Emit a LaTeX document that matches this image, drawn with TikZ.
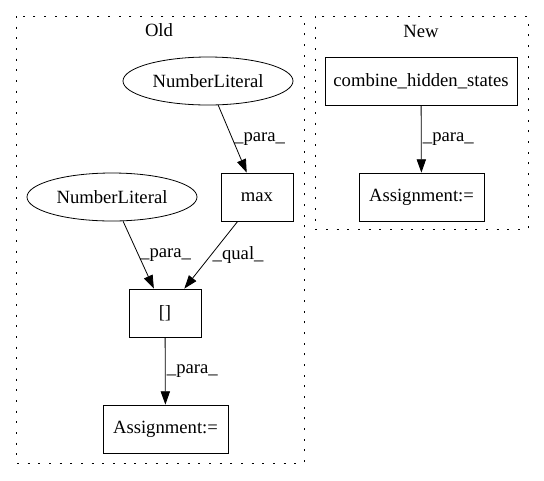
\documentclass[tikz,border=0pt]{standalone}
\usepackage{fontspec}
\setmainfont{Liberation Serif}
\usetikzlibrary{arrows.meta,shapes.geometric}

\begin{document}
\begin{tikzpicture}[x=0.75pt,y=-0.75pt,
    font=\fontsize{14pt}{16pt}\selectfont,
    cluster/.style={draw, line width=0.7pt, dash pattern=on 1.5pt off 6.5pt},
    boxnode/.style={draw, rectangle, line width=0.6pt, minimum width=54pt, minimum height=36pt, inner sep=0pt},
    ellnode/.style={draw, ellipse, line width=0.6pt, minimum width=127.5pt, minimum height=36pt, inner sep=0pt},
    flow/.style={draw, line width=0.6pt, -{Triangle[length=10pt, width=7pt]}},
    lbl/.style={right, inner sep=1pt}]
    \useasboundingbox (0,0) rectangle (544,480);

    % clusters
    \draw[cluster] (16,16) rectangle (304,463);
    \draw[cluster] (315,16) rectangle (528,229);
    \node (oldtitle) at (159,30) {Old};
    \node (newtitle) at (421,31) {New};

    % old
    \node[ellnode] (numlit1) at (208,81) {NumberLiteral};
    \node[ellnode] (numlit2) at (112,197) {NumberLiteral};
    \node[boxnode] (maxcall) at (257,197) {max};
    \node[boxnode] (index) at (165,313) {[]};
    \node[boxnode, minimum width=93.75pt] (assignold) at (165.5,429) {Assignment:=};

    % new
    \node[boxnode, minimum width=144pt] (combine) at (421,81) {combine\_hidden\_states};
    \node[boxnode, minimum width=93.75pt] (assignnew) at (421.5,197) {Assignment:=};

    \draw[flow] (numlit1) -- node[lbl] {\_para\_} (maxcall);
    \draw[flow] (numlit2) -- node[lbl] {\_para\_} (index);
    \draw[flow] (maxcall) -- node[lbl] {\_qual\_} (index);
    \draw[flow] (index) -- node[lbl] {\_para\_} (assignold);
    \draw[flow] (combine) -- node[lbl] {\_para\_} (assignnew);
\end{tikzpicture}
\end{document}
